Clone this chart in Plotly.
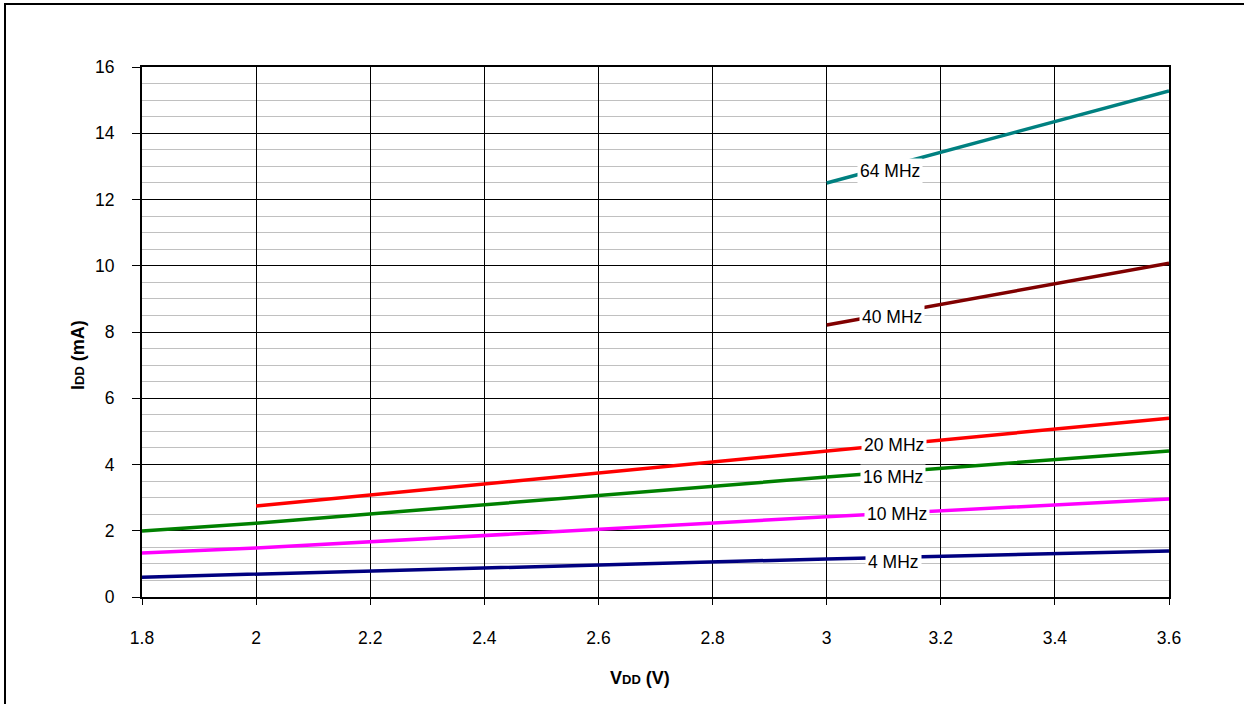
import plotly.graph_objects as go

# Data
vdd_full = [1.8, 2.0, 3.0, 3.6]
i_4mhz = [0.60, 0.69, 1.15, 1.39]
i_10mhz = [1.33, 1.48, 2.42, 2.96]
i_16mhz = [1.99, 2.23, 3.62, 4.41]
vdd_20 = [2.0, 3.0, 3.6]
i_20mhz = [2.75, 4.41, 5.40]
vdd_hi = [3.0, 3.6]
i_40mhz = [8.21, 10.08]
i_64mhz = [12.50, 15.28]

series_names = ["4 MHz", "10 MHz", "16 MHz", "20 MHz", "40 MHz", "64 MHz"]
series_x = [vdd_full, vdd_full, vdd_full, vdd_20, vdd_hi, vdd_hi]
series_y = [i_4mhz, i_10mhz, i_16mhz, i_20mhz, i_40mhz, i_64mhz]
series_colors = ["#000080", "#FF00FF", "#008000", "#FF0000", "#800000", "#008080"]

# label positions (data coords)
label_x = [3.118, 3.123, 3.116, 3.118, 3.114, 3.111]
label_y = [1.06, 2.51, 3.62, 4.59, 8.45, 12.86]

x_ticks = [1.8, 2.0, 2.2, 2.4, 2.6, 2.8, 3.0, 3.2, 3.4, 3.6]
x_tick_text = ["1.8", "2", "2.2", "2.4", "2.6", "2.8", "3", "3.2", "3.4", "3.6"]

FONT = "Liberation Sans, Arial, sans-serif"

fig = go.Figure()
for name, xs, ys, col in zip(series_names, series_x, series_y, series_colors):
    fig.add_trace(go.Scatter(x=xs, y=ys, mode="lines", name=name,
                             line=dict(color=col, width=3.5), showlegend=False))

for name, lx, ly in zip(series_names, label_x, label_y):
    fig.add_annotation(x=lx, y=ly, xref="x", yref="y", text=name, showarrow=False,
                       bgcolor="white", borderpad=2,
                       font=dict(family=FONT, size=17.5, color="black"))

W, H = 1244, 704
L, R, T, B = 142, 1169, 67, 597
pw, ph = R - L, B - T

def px(xp):
    return (xp - L) / pw

def py(yp):
    return (B - yp) / ph

# axis titles
fig.add_annotation(x=px(640), y=py(678), xref="paper", yref="paper",
                   xanchor="center", yanchor="middle",
                   text="<b>V<span style='font-size:13px'>DD</span> (V)</b>",
                   showarrow=False, font=dict(family=FONT, size=18, color="black"))
fig.add_annotation(x=px(78), y=py(355), xref="paper", yref="paper", textangle=-90,
                   xanchor="center", yanchor="middle",
                   text="<b>I<span style='font-size:13px'>DD</span> (mA)</b>",
                   showarrow=False, font=dict(family=FONT, size=18, color="black"))

# outer frame
fig.add_shape(type="rect", xref="paper", yref="paper",
              x0=px(5), x1=px(1250), y0=py(4), y1=py(720),
              line=dict(color="black", width=2), fillcolor="rgba(0,0,0,0)", layer="below")

fig.update_layout(
    width=W, height=H,
    margin=dict(l=L, r=W - R, t=T, b=H - B),
    paper_bgcolor="white", plot_bgcolor="white",
    font=dict(family=FONT, size=17.5, color="black"),
    showlegend=False,
)
fig.update_xaxes(range=[1.8, 3.6], tickvals=x_ticks, ticktext=x_tick_text,
                 showgrid=True, gridcolor="black", gridwidth=1,
                 showline=True, linecolor="black", linewidth=2, mirror=True,
                 ticks="outside", ticklen=6, tickcolor="black", tickwidth=1,
                 ticklabelstandoff=18, zeroline=False,
                 tickfont=dict(family=FONT, size=17.5, color="black"))
fig.update_yaxes(range=[0, 16], tick0=0, dtick=2,
                 showgrid=True, gridcolor="black", gridwidth=1,
                 minor=dict(dtick=0.5, showgrid=True, gridcolor="#C0C0C0", gridwidth=1),
                 showline=True, linecolor="black", linewidth=2, mirror=True,
                 ticks="outside", ticklen=8, tickcolor="black", tickwidth=1,
                 ticklabelstandoff=14, zeroline=False,
                 tickfont=dict(family=FONT, size=17.5, color="black"))

fig.write_html("out.html", config={"displayModeBar": False},
               post_script="document.body.style.margin='0px';")
